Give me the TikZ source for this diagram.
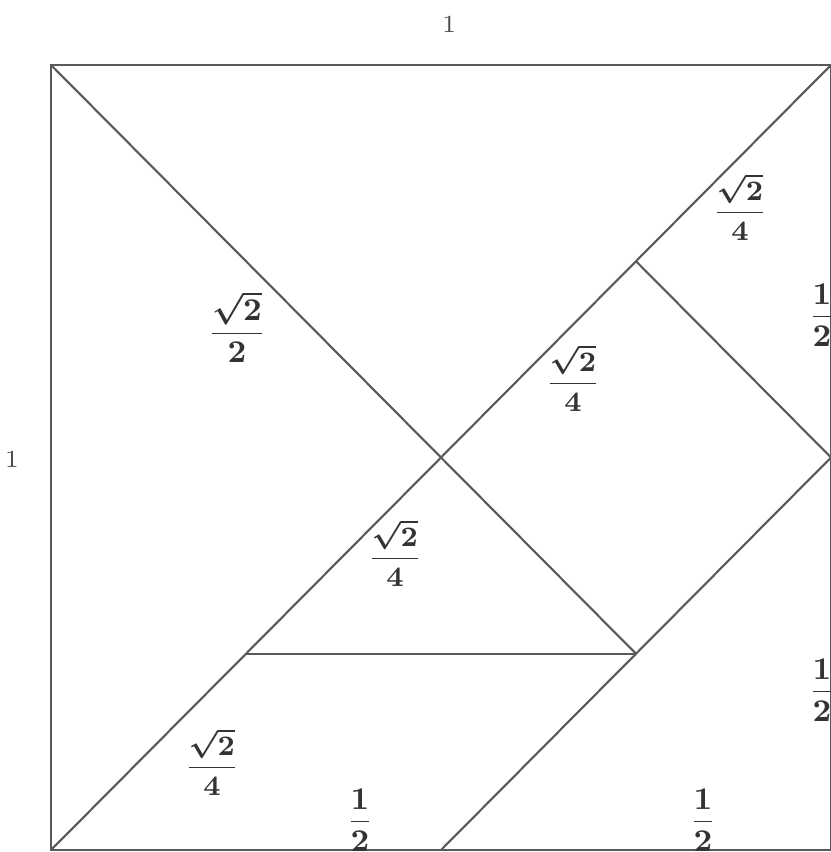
\documentclass[tikz,border=0pt]{standalone}
\usepackage{amsmath}
\usepackage{amssymb}
\usepackage{tikz}

\begin{document}
\begin{tikzpicture}[
		piece/.style={draw=black!65, line width=0.6pt},
		lab/.style={font=\footnotesize\boldmath, text=black!80, inner sep=0pt},
		side/.style={font=\scriptsize, text=black!70, inner sep=0pt}
	]
			
			\useasboundingbox (-0.51,-0.02) rectangle (7.79,8.50);
			
			% Corners of the unit square
			\coordinate (A) at (0,0);
			\coordinate (B) at (7.8,0);
			\coordinate (C) at (7.8,7.85);
			\coordinate (D) at (0,7.85);
			
			% Inner points of the tangram
			% M: centre, Q1..Q3: quarter points
			\coordinate (M) at (3.9,3.925);
			\coordinate (Hb) at (3.9,0);
			\coordinate (Hr) at (7.8,3.925);
			\coordinate (Q1) at (1.95,1.9625);
			\coordinate (Q2) at (5.85,1.9625);
			\coordinate (Q3) at (5.85,5.8875);
			
			% Outline
			\draw[piece] (A) -- (B) -- (C) -- (D) -- cycle;
			
			% Cuts
			\draw[piece] (A) -- (C);
			\draw[piece] (D) -- (M) -- (Q2);
			\draw[piece] (Q1) -- (Q2);
			\draw[piece] (Hb) -- (Q2) -- (Hr);
			\draw[piece] (Q3) -- (Hr);
			
			% Side lengths
			\node[side] (topone) at (3.98,8.25) {$1$};
			\node[side] (leftone) at (-0.39,3.9) {$1$};
			
			\node[lab, font=\small\boldmath] (bighalf) at (1.86,5.23) {$\dfrac{\sqrt{2}}{2}$};
			\node[lab] (qa) at (6.89,6.43) {$\dfrac{\sqrt{2}}{4}$};
			\node[lab] (qb) at (5.22,4.72) {$\dfrac{\sqrt{2}}{4}$};
			\node[lab] (qc) at (3.44,2.97) {$\dfrac{\sqrt{2}}{4}$};
			\node[lab] (qd) at (1.61,0.88) {$\dfrac{\sqrt{2}}{4}$};
			
			\node[lab, font=\small\boldmath] (ha) at (3.09,0.3) {$\dfrac{1}{2}$};
			\node[lab, font=\small\boldmath] (hb) at (6.52,0.3) {$\dfrac{1}{2}$};
			\node[lab, font=\small\boldmath] (hc) at (7.71,5.35) {$\dfrac{1}{2}$};
			\node[lab, font=\small\boldmath] (hd) at (7.71,1.6) {$\dfrac{1}{2}$};
			
		\end{tikzpicture}
\end{document}
